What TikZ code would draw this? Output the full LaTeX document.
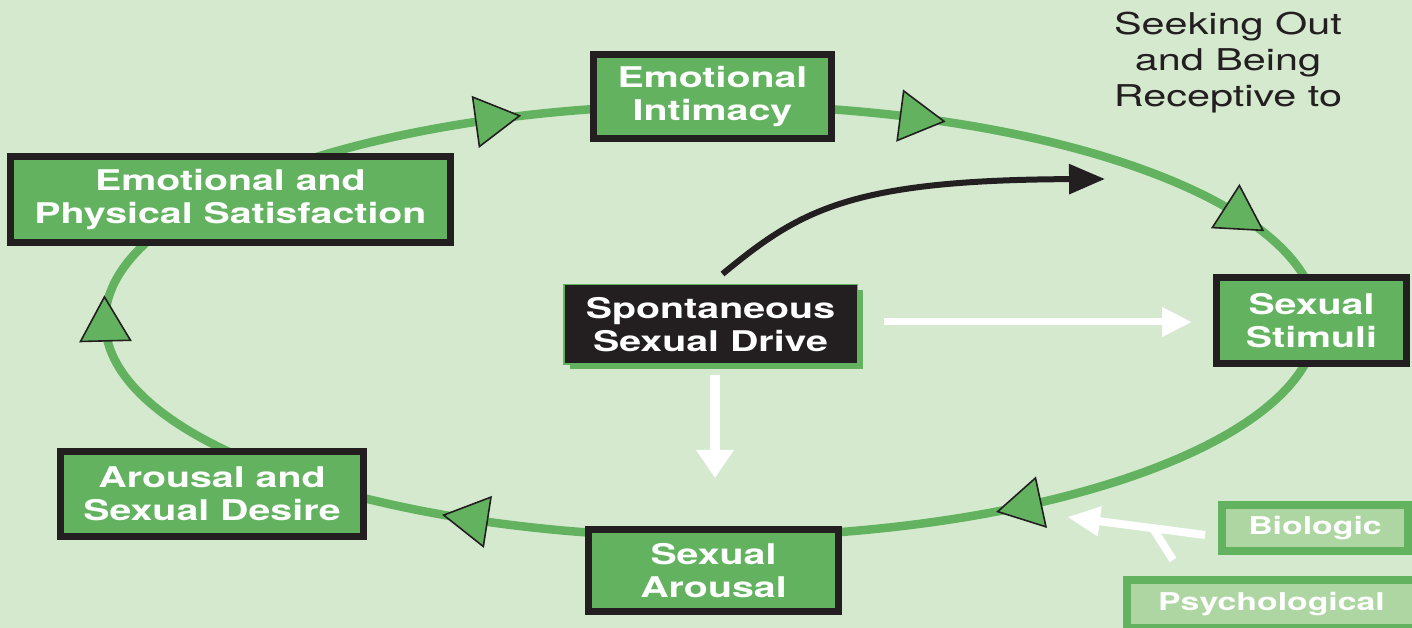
\documentclass[tikz,border=0pt]{standalone}
\usepackage{fontspec}
\newfontfamily\hv[FakeStretch=1.38]{TeX Gyre Heros}
\usetikzlibrary{arrows.meta,calc,shadows}
\definecolor{bg}{RGB}{213,233,207}
\definecolor{boxgreen}{RGB}{98,178,96}
\definecolor{lightbox}{RGB}{174,214,162}
\definecolor{dark}{RGB}{35,31,32}
\tikzset{
  gbox/.style={draw=dark, line width=7pt, fill=boxgreen, text=white, align=center, inner sep=0pt,
    font={\hv\bfseries\fontsize{28.5}{33}\selectfont}},
  lbox/.style={draw=boxgreen, line width=8pt, fill=lightbox, text=white, align=center, inner sep=0pt,
    font={\hv\bfseries\fontsize{24.5}{28}\selectfont}},
  dbox/.style={draw=boxgreen, line width=1.5pt, fill=dark, text=white, align=center, inner sep=0pt,
    font={\hv\bfseries\fontsize{28.5}{33}\selectfont},
    general shadow={fill=boxgreen, draw=none, shadow xshift=6pt, shadow yshift=-5pt}},
  ring/.style={draw=boxgreen, line width=8.5pt},
  tri/.style={fill=boxgreen, draw=dark, line width=1.6pt, line join=miter},
  warr/.style={draw=white, line width=7pt},
  barr/.style={draw=dark, line width=6pt, -{Triangle[length=36pt,width=29pt]}},
}
\begin{document}
\begin{tikzpicture}[x=1pt,y=1pt]
\useasboundingbox (0,0) rectangle (1412,628);
\clip (0,0) rectangle (1412,628);
\fill[bg] (0,0) rectangle (1412,628);

% ring
\draw[ring] (711,307) ellipse [x radius=606pt, y radius=216pt];

% ring arrowheads
\foreach \t in {111,70,29,-59,-113.5,180.5}{
  \pgfmathsetmacro\px{711+606*cos(\t)}
  \pgfmathsetmacro\py{307+216*sin(\t)}
  \pgfmathsetmacro\ang{atan2(-216*cos(\t),606*sin(\t))}
  \begin{scope}[shift={(\px,\py)}, rotate=\ang]
    \draw[tri] (26,0) -- (-18,25) -- (-18,-25) -- cycle;
  \end{scope}
}

% nodes
\node[gbox, minimum width=238pt, minimum height=84pt] (ei) at (712.5,531) {Emotional\\Intimacy};
\node[gbox, minimum width=440pt, minimum height=86pt] (eps) at (230.5,428.5) {Emotional and\\Physical Satisfaction};
\node[gbox, minimum width=190pt, minimum height=86pt] (ss) at (1311.5,307.5) {Sexual\\Stimuli};
\node[gbox, minimum width=303pt, minimum height=85pt] (asd) at (212,134) {Arousal and\\Sexual Desire};
\node[gbox, minimum width=250pt, minimum height=82pt] (sa) at (713.5,57.5) {Sexual\\Arousal};
\node[dbox, minimum width=293.5pt, minimum height=79.5pt] (ssd) at (710.5,303.5) {Spontaneous\\Sexual Drive};
\node[lbox, minimum width=186pt, minimum height=46pt] (bio) at (1315,100) {Biologic};
\node[lbox, minimum width=289pt, minimum height=48pt] (psy) at (1271.5,24) {Psychological};
\node[text=dark, align=center, font={\hv\fontsize{30}{36}\selectfont}] (seek) at (1228,565) {Seeking Out\\and Being\\Receptive to};

% connectors
\coordinate (bend) at (1105,449);
\draw[barr] ($(ssd.north)+(12,10)$) .. controls (800,418) and (850,448) .. (bend);
\draw[warr, -{Triangle[length=30pt,width=28pt]}, shorten <=26pt, shorten >=21pt]
  ([yshift=2.5pt]ssd.east) -- ([yshift=-1.5pt]ss.west);
\draw[warr, line width=10pt, -{Triangle[length=28pt,width=36pt]}, shorten <=10pt, shorten >=48pt]
  ([xshift=4.5pt]ssd.south) -- ([xshift=1.5pt]sa.north);
\coordinate (btip) at (1067,111);
\coordinate (bjoin) at (1154,98);
\draw[warr, line width=8pt, -{Triangle[length=33pt,width=28pt]}] ($(bio.west)+(-13,-7)$) -- (btip);
\draw[warr, line width=8pt] ($(psy.north)+(-98.5,16)$) -- (bjoin);
\end{tikzpicture}
\end{document}
